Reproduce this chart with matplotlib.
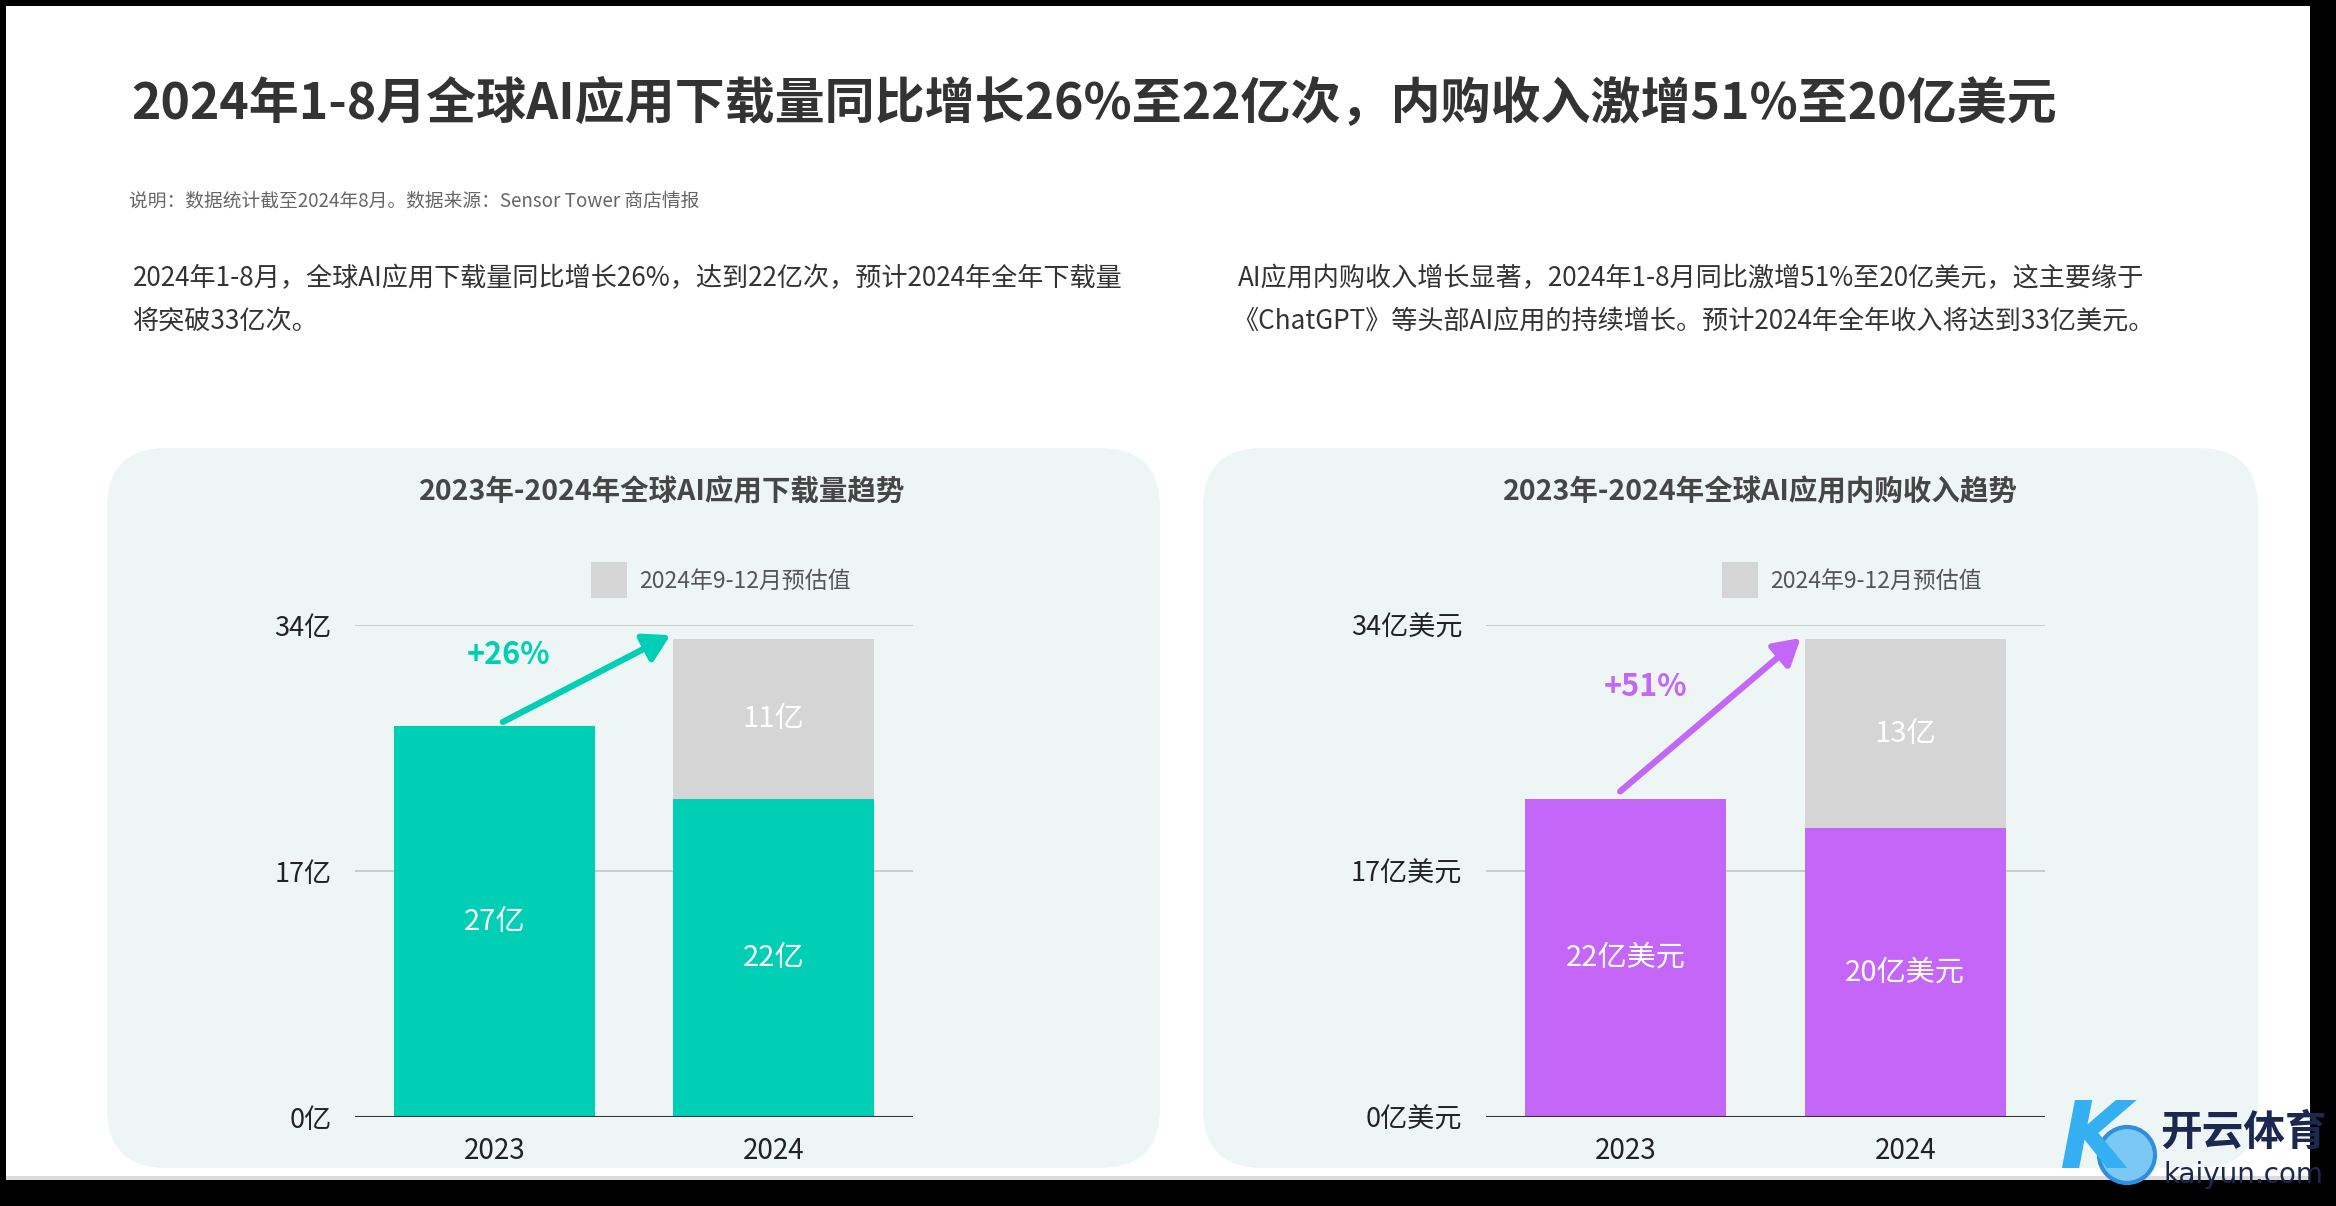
import matplotlib
matplotlib.use('Agg')
import matplotlib.pyplot as plt
from matplotlib.patches import FancyBboxPatch, Rectangle, Circle

plt.rcParams['font.family'] = ['Noto Sans CJK SC', 'DejaVu Sans']

# data
years = ['2023', '2024']
downloads_actual = [27, 22]          # 亿次
downloads_forecast = [0, 11]         # 2024年9-12月预估
revenue_actual = [22, 20]            # 亿美元
revenue_forecast = [0, 13]
download_ticks = [0, 17, 34]
download_ticklabels = ['0亿', '17亿', '34亿']
revenue_ticks = [0, 17, 34]
revenue_ticklabels = ['0亿美元', '17亿美元', '34亿美元']
download_labels = ['27亿', '22亿']
download_fc_labels = ['', '11亿']
revenue_labels = ['22亿美元', '20亿美元']
revenue_fc_labels = ['', '13亿']
download_growth = '+26%'
revenue_growth = '+51%'

TEAL = '#00CFB6'
PURPLE = '#C466F8'
GREY = '#D5D5D5'
PANEL = '#EDF6F5'

W, H = 2336, 1206
fig = plt.figure(figsize=(W / 100, H / 100), dpi=100)
fig.patch.set_facecolor('white')

# background axes in pixel coordinates (y down)
bg = fig.add_axes([0, 0, 1, 1], zorder=0)
bg.set_xlim(0, W)
bg.set_ylim(H, 0)
bg.axis('off')

for x0, x1 in [(107, 1160), (1203, 2258)]:
    bg.add_patch(FancyBboxPatch((x0, 448), x1 - x0, 720,
                                boxstyle='round,pad=0,rounding_size=60',
                                fc=PANEL, ec='none'))

# frame of the screenshot
bg.add_patch(Rectangle((0, 1176), W, 5, fc='#DCDCDC', ec='none'))
for r in [(0, 0, W, 6), (0, 0, 6, H), (2310, 0, 26, H), (0, 1180, W, 26)]:
    bg.add_patch(Rectangle((r[0], r[1]), r[2], r[3], fc='black', ec='none'))

# header texts
bg.text(131, 104, '2024年1-8月全球AI应用下载量同比增长26%至22亿次，内购收入激增51%至20亿美元',
        fontsize=36, fontweight='bold', color='#333333', va='center', ha='left')
bg.text(129, 201, '说明：数据统计截至2024年8月。数据来源：Sensor Tower 商店情报',
        fontsize=13.5, color='#666666', va='center', ha='left')
bg.text(133, 279, '2024年1-8月，全球AI应用下载量同比增长26%，达到22亿次，预计2024年全年下载量',
        fontsize=18.8, color='#333333', va='center', ha='left')
bg.text(133, 321, '将突破33亿次。', fontsize=18.8, color='#333333', va='center', ha='left')
bg.text(1238, 279, 'AI应用内购收入增长显著，2024年1-8月同比激增51%至20亿美元，这主要缘于',
        fontsize=18.8, color='#333333', va='center', ha='left')
bg.text(1232, 321, '《ChatGPT》等头部AI应用的持续增长。预计2024年全年收入将达到33亿美元。',
        fontsize=18.8, color='#333333', va='center', ha='left')


def panel(ax_left, ax_right, title, title_x, legend_x, actual, forecast, color,
          ticks, ticklabels, labels, fc_labels, growth, arrow_start, arrow_end, growth_xy):
    ax = fig.add_axes([ax_left / W, (H - 1117) / H, (ax_right - ax_left) / W, 492 / H], zorder=2)
    ax.set_facecolor('none')
    x = range(len(years))
    ax.bar(x, actual, width=0.72, color=color, zorder=2)
    ax.bar(x, forecast, width=0.72, bottom=actual, color=GREY, zorder=2)
    for i in x:
        ax.text(i, actual[i] / 2, labels[i], ha='center', va='center', color='white', fontsize=21)
        if forecast[i]:
            ax.text(i, actual[i] + forecast[i] / 2, fc_labels[i], ha='center', va='center',
                    color='white', fontsize=21)
    ax.set_xlim(-0.5, 1.5)
    ax.set_ylim(0, 34)
    ax.set_yticks(ticks)
    ax.set_yticklabels(ticklabels)
    ax.set_xticks(list(x))
    ax.set_xticklabels(years)
    ax.tick_params(length=0, labelsize=19.5, labelcolor='#222222')
    ax.tick_params(axis='y', pad=17)
    ax.tick_params(axis='x', pad=14, labelsize=20)
    for t in ticks[1:]:
        ax.axhline(t, color='#C8C8C8', lw=1.3, zorder=1)
    ax.axhline(0, color='#333333', lw=1.5, zorder=3)
    for s in ax.spines.values():
        s.set_visible(False)
    ax.annotate('', xy=arrow_end, xytext=arrow_start,
                arrowprops=dict(arrowstyle='-|>,head_length=0.6,head_width=0.35',
                                mutation_scale=26, lw=4.5, color=color,
                                shrinkA=0, shrinkB=0), zorder=4)
    ax.text(growth_xy[0], growth_xy[1], growth, ha='center', va='center', color=color,
            fontsize=22, fontweight='bold')
    bg.text(title_x, 492, title, ha='center', va='center', fontsize=20.5,
            fontweight='bold', color='#464646')
    bg.add_patch(Rectangle((legend_x, 562), 36, 36, fc=GREY, ec='none'))
    bg.text(legend_x + 48, 581, '2024年9-12月预估值', ha='left', va='center',
            fontsize=16.5, color='#555555')


panel(355, 913, '2023年-2024年全球AI应用下载量趋势', 662, 591,
      downloads_actual, downloads_forecast, TEAL,
      download_ticks, download_ticklabels, download_labels, download_fc_labels,
      download_growth,
      (0.03, downloads_actual[0] + 0.3),
      (0.63, downloads_actual[1] + downloads_forecast[1] + 0.3),
      (0.05, 31.9))

panel(1486, 2045, '2023年-2024年全球AI应用内购收入趋势', 1760, 1722,
      revenue_actual, revenue_forecast, PURPLE,
      revenue_ticks, revenue_ticklabels, revenue_labels, revenue_fc_labels,
      revenue_growth,
      (-0.02, revenue_actual[0] + 0.5),
      (0.626, revenue_actual[1] + revenue_forecast[1] + 0.1),
      (0.07, 29.7))

# watermark
wm = fig.add_axes([0, 0, 1, 1], zorder=5)
wm.set_xlim(0, W)
wm.set_ylim(H, 0)
wm.axis('off')
wm.text(2095, 1142, 'K', fontsize=66, fontstyle='italic', fontweight='bold',
        color='#33AFF2', ha='center', va='center', family='DejaVu Sans')
wm.add_patch(Circle((2127, 1155), 28, fc='#7CC8F5', ec='#2E8FE0', lw=3))
wm.text(2243, 1133, '开云体育', fontsize=30, fontweight='bold', color='#1C2850',
        ha='center', va='center')
wm.text(2243, 1175, 'kaiyun.com', fontsize=20, color='#1C2850', ha='center', va='center',
        family='DejaVu Sans')

fig.savefig('out.png', dpi=100)
